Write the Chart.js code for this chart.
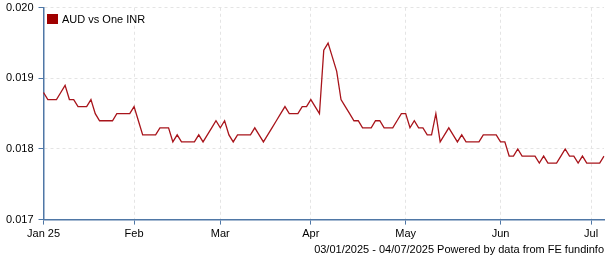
<!DOCTYPE html>
<html lang="en">
<head>
  <meta charset="UTF-8" />
  <title>AUD vs One INR</title>
  <script src="https://cdn.jsdelivr.net/npm/chart.js"></script>
  <style>
    body {
      margin: 0;
      background: #fff;
      font-family: "Liberation Sans", Arial, sans-serif;
    }
    #wrap {
      position: relative;
      width: 605px;
      height: 260px;
    }
    #legend {
      position: absolute;
      left: 47px;
      top: 13px;
      font-size: 11px;
      line-height: 12px;
      color: #000;
      display: flex;
      align-items: center;
    }
    #legend .box {
      width: 11px;
      height: 10px;
      background: #a00000;
      margin-right: 4px;
    }
  </style>
</head>
<body>
  <div id="wrap">
    <canvas id="chart" width="605" height="260"></canvas>
    <div id="legend"><span class="box"></span><span id="legendText"></span></div>
  </div>

  <script>
    // business days 03/01/2025 .. 04/07/2025
    const START_DATE = '2025-01-03';
    const END_DATE = '2025-07-04';

    const seriesName = 'AUD vs One INR';
    const rates = [
      0.0188, 0.0187, 0.0187, 0.0187, 0.0188, 0.0189, 0.0187, 0.0187, 0.0186, 0.0186,
      0.0186, 0.0187, 0.0185, 0.0184, 0.0184, 0.0184, 0.0184, 0.0185, 0.0185, 0.0185,
      0.0185, 0.0186, 0.0184, 0.0182, 0.0182, 0.0182, 0.0182, 0.0183, 0.0183, 0.0183,
      0.0181, 0.0182, 0.0181, 0.0181, 0.0181, 0.0181, 0.0182, 0.0181, 0.0182, 0.0183,
      0.0184, 0.0183, 0.0184, 0.0182, 0.0181, 0.0182, 0.0182, 0.0182, 0.0182, 0.0183,
      0.0182, 0.0181, 0.0182, 0.0183, 0.0184, 0.0185, 0.0186, 0.0185, 0.0185, 0.0185,
      0.0186, 0.0186, 0.0187, 0.0186, 0.0185, 0.0194, 0.0195, 0.0193, 0.0191, 0.0187,
      0.0186, 0.0185, 0.0184, 0.0184, 0.0183, 0.0183, 0.0183, 0.0184, 0.0184, 0.0183,
      0.0183, 0.0183, 0.0184, 0.0185, 0.0185, 0.0183, 0.0184, 0.0183, 0.0183, 0.0182,
      0.0182, 0.0185, 0.0181, 0.0182, 0.0183, 0.0182, 0.0181, 0.0182, 0.0181, 0.0181,
      0.0181, 0.0181, 0.0182, 0.0182, 0.0182, 0.0182, 0.0181, 0.0181, 0.0179, 0.0179,
      0.0180, 0.0179, 0.0179, 0.0179, 0.0179, 0.0178, 0.0179, 0.0178, 0.0178, 0.0178,
      0.0179, 0.0180, 0.0179, 0.0179, 0.0178, 0.0179, 0.0178, 0.0178, 0.0178, 0.0178, 0.0179
    ];

    // label shown at the first trading day of each month
    const monthLabels = ['Jan 25', 'Feb', 'Mar', 'Apr', 'May', 'Jun', 'Jul'];
    const footerText = '03/01/2025 - 04/07/2025 Powered by data from FE fundinfo';

    const FONT = '"Liberation Sans", Arial, sans-serif';
    const AXIS_BLUE = '#4f77a6';
    const GRID = '#e4e4e4';

    function businessDays(start, end) {
      const out = [];
      const d = new Date(start + 'T00:00:00Z');
      const last = new Date(end + 'T00:00:00Z');
      while (d <= last) {
        const wd = d.getUTCDay();
        if (wd !== 0 && wd !== 6) out.push(new Date(d));
        d.setUTCDate(d.getUTCDate() + 1);
      }
      return out;
    }

    const dates = businessDays(START_DATE, END_DATE);
    const labels = dates.map(d => d.toISOString().slice(0, 10));

    // index -> month label for first day of each month
    const tickAt = {};
    let m = -1;
    dates.forEach((d, i) => {
      if (d.getUTCMonth() !== m) {
        m = d.getUTCMonth();
        tickAt[i] = monthLabels[m];
      }
    });

    document.getElementById('legendText').textContent = seriesName;

    const ctx = document.getElementById('chart').getContext('2d');
    new Chart(ctx, {
      type: 'line',
      data: {
        labels,
        datasets: [{
          label: seriesName,
          data: rates,
          borderColor: '#a8141b',
          borderWidth: 1.3,
          pointRadius: 0,
          tension: 0,
          fill: false
        }]
      },
      options: {
        responsive: false,
        animation: false,
        events: [],
        layout: { padding: { left: 1, right: 1, top: 5, bottom: 3 } },
        plugins: {
          tooltip: { enabled: false },
          legend: { display: false },
          subtitle: {
            display: true,
            position: 'bottom',
            align: 'end',
            text: footerText,
            color: '#000',
            font: { family: FONT, size: 11 },
            padding: { top: 0, bottom: 0 }
          }
        },
        scales: {
          x: {
            ticks: {
              autoSkip: false,
              maxRotation: 0,
              minRotation: 0,
              padding: 3,
              color: '#000',
              font: { family: FONT, size: 11 },
              callback: (v, i) => (tickAt[i] !== undefined ? tickAt[i] : null)
            },
            grid: {
              color: GRID,
              tickColor: AXIS_BLUE,
              tickLength: 5
            },
            border: { color: AXIS_BLUE, width: 1.5, dash: [3, 3] }
          },
          y: {
            min: 0.017,
            max: 0.020,
            ticks: {
              stepSize: 0.001,
              padding: 5,
              color: '#000',
              font: { family: FONT, size: 11, lineHeight: 0.5 },
              callback: v => v.toFixed(3)
            },
            grid: {
              color: GRID,
              tickColor: AXIS_BLUE,
              tickLength: 5
            },
            border: { color: AXIS_BLUE, width: 1.5, dash: [3, 3] }
          }
        }
      }
    });
  </script>
</body>
</html>
